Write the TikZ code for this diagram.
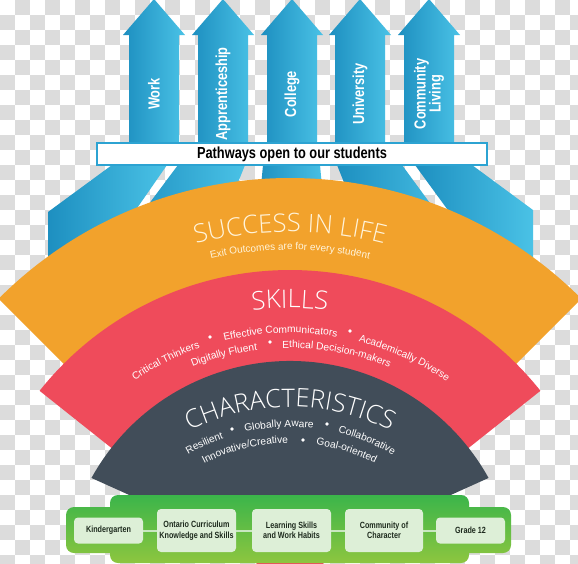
\documentclass[tikz,border=0pt]{standalone}
\usepackage{fontspec}
\setmainfont{Liberation Sans}
\newfontfamily\condfont[FakeStretch=0.8]{Liberation Sans}
\IfFontExistsTF{Open Sans Light}{\newfontfamily\thinfont{Open Sans Light}}{\newfontfamily\thinfont{Liberation Sans}}
\usetikzlibrary{decorations.text,calc}
\definecolor{chk}{HTML}{DCDCDC}
\definecolor{bluedark}{HTML}{1D8FC0}
\definecolor{bluelight}{HTML}{4AC2E6}
\definecolor{orangeband}{HTML}{F2A22C}
\definecolor{redband}{HTML}{EF4B5B}
\definecolor{darkband}{HTML}{414D59}
\definecolor{greentop}{HTML}{3BB54A}
\definecolor{greenbot}{HTML}{8DC63F}
\definecolor{boxgreen}{HTML}{DDEFD7}
\definecolor{linegreen}{HTML}{C9E7C1}
\definecolor{boxblue}{HTML}{2CA3D2}
\definecolor{cream}{HTML}{FFF4DC}
\definecolor{textdark}{HTML}{1E2B1E}
% y axis points down, so the angle of "up" is -90
% #1 centre y, #2 radius, #3 mid angle, #4 font, #5 colour, #6 text
\newcommand\arcword[6]{%
  \path[decorate,decoration={text along path,text align=center,text color=#5,
    text={|#4|#6}}]
    ($(290,#1)+(-#3-70:#2)$) arc[start angle=-#3-70,end angle=-#3+70,radius=#2];}
\newcommand\titlef{\thinfont\fontsize{25.5}{25.5}\selectfont}
\newcommand\itemf{\fontsize{10.2}{10.2}\selectfont}
\tikzset{
  bluegrad/.style={left color=bluedark,right color=bluelight},
  arrowlabel/.style={rotate=90,text=white,font=\condfont\bfseries\fontsize{16}{15}\selectfont,align=center,inner sep=0pt},
  gbox/.style={fill=boxgreen,rounded corners=4pt,inner sep=1pt,align=center,text=textdark,font=\condfont\bfseries\fontsize{9}{10.5}\selectfont},
}
\begin{document}
\begin{tikzpicture}[x=1pt,y=-1pt]
\useasboundingbox (0,0) rectangle (578,563);
\clip (0,0) rectangle (578,563);
% transparency checkerboard
\fill[white] (0,0) rectangle (578,563);
\foreach \i in {0,...,38}{\foreach \j in {0,...,37}{%
  \pgfmathtruncatemacro\chkodd{mod(\i+\j,2)}%
  \ifnum\chkodd=1 \fill[chk] (\i*15,\j*15) rectangle ++(15,15);\fi}}
% arrows
\foreach \c in {154,223,292,360,429}{
  \shade[bluegrad] ({\c-25},160) -- ({\c-25},35) -- ({\c-31},35) -- (\c,-1) -- ({\c+31},35) -- ({\c+25},35) -- ({\c+25},160) -- cycle;}
% lower ribbons
\shade[bluegrad] (112,150) -- (167,150) -- (167,165) -- (108,250) -- (48,285) -- (48,212) -- (112,165) -- cycle;
\shade[bluegrad] (178,150) -- (245,150) -- (245,165) -- (215,240) -- (122,240) -- (178,165) -- cycle;
\shade[bluegrad] (263,150) -- (320,150) -- (320,165) -- (326,230) -- (257,230) -- (263,165) -- cycle;
\shade[bluegrad] (337,150) -- (402,150) -- (402,165) -- (457,240) -- (367,240) -- (337,165) -- cycle;
\shade[bluegrad] (415,150) -- (472,150) -- (472,165) -- (533,210) -- (533,285) -- (477,250) -- (415,165) -- cycle;
\node[draw=boxblue,line width=1.5pt,fill=white,minimum width=390pt,minimum height=22pt,inner sep=0pt,
  font=\condfont\bfseries\fontsize{16}{16}\selectfont] (pathways) at (292,154) {Pathways open to our students};
\node[arrowlabel] (work) at (154,94) {Work};
\node[arrowlabel] (appr) at (223,94) {Apprenticeship};
\node[arrowlabel] (coll) at (292,94) {College};
\node[arrowlabel] (univ) at (360,94) {University};
\node[arrowlabel] (comm) at (429,94) {Community\\Living};
% bands
\fill[orangeband] (290,590) -- ($(290,590)+(-135:412)$) arc[start angle=-135,end angle=-45,radius=412] -- cycle;
\fill[redband] (290,590) -- ($(290,590)+(-141.5:320)$) arc[start angle=-141.5,end angle=-38.5,radius=320] -- cycle;
\fill[darkband] (147,503) -- ($(290,588)+(-151:227)$) arc[start angle=-151,end angle=-29,radius=227] -- (433,503) -- cycle;
% green bar
\shade[top color=greentop,bottom color=greenbot,rounded corners=8pt] (110,495) rectangle (469,563) (66,507) rectangle (511,553);
\node[gbox,minimum width=69pt,minimum height=26pt] (kg) at (108.5,530.5) {Kindergarten};
\node[gbox,minimum width=79pt,minimum height=43pt] (oc) at (196.5,530.5) {Ontario Curriculum\\Knowledge and Skills};
\node[gbox,minimum width=79pt,minimum height=43pt] (ls) at (291.5,530.5) {Learning Skills\\and Work Habits};
\node[gbox,minimum width=78pt,minimum height=43pt] (cc) at (384,530.5) {Community of\\Character};
\node[gbox,minimum width=69pt,minimum height=26pt] (g12) at (470.5,530.5) {Grade 12};
\draw[linegreen,line width=2pt] (kg) -- (oc) (oc) -- (ls) (ls) -- (cc) (cc) -- (g12);
% texts
\arcword{610}{378}{90}{\titlef}{cream}{SUCCESS IN LIFE}
\arcword{610}{360}{90}{\fontsize{10}{10}\selectfont}{cream}{Exit Outcomes are for every student}
\arcword{610}{302}{90}{\titlef}{white}{SKILLS}
\arcword{610}{277}{116.5}{\itemf}{white}{Critical Thinkers}
\arcword{610}{277}{92}{\itemf}{white}{Effective Communicators}
\arcword{610}{277}{65.6}{\itemf}{white}{Academically Diverse}
\arcword{610}{262}{104.5}{\itemf}{white}{Digitally Fluent}
\arcword{610}{262}{79.7}{\itemf}{white}{Ethical Decision-makers}
\fill[white] (210,337) circle[radius=1.8] (350,331) circle[radius=1.8] (270,342) circle[radius=1.8];
\arcword{630}{223}{90}{\titlef}{white}{CHARACTERISTICS}
\arcword{630}{203}{114.6}{\itemf}{white}{Resilient}
\arcword{630}{203}{93.1}{\itemf}{white}{Globally Aware}
\arcword{630}{203}{67.9}{\itemf}{white}{Collaborative}
\arcword{630}{187}{104}{\itemf}{white}{Innovative/Creative}
\arcword{630}{187}{72.5}{\itemf}{white}{Goal-oriented}
\fill[white] (232,429) circle[radius=1.8] (327,424) circle[radius=1.8] (303,440) circle[radius=1.8];
\end{tikzpicture}
\end{document}
